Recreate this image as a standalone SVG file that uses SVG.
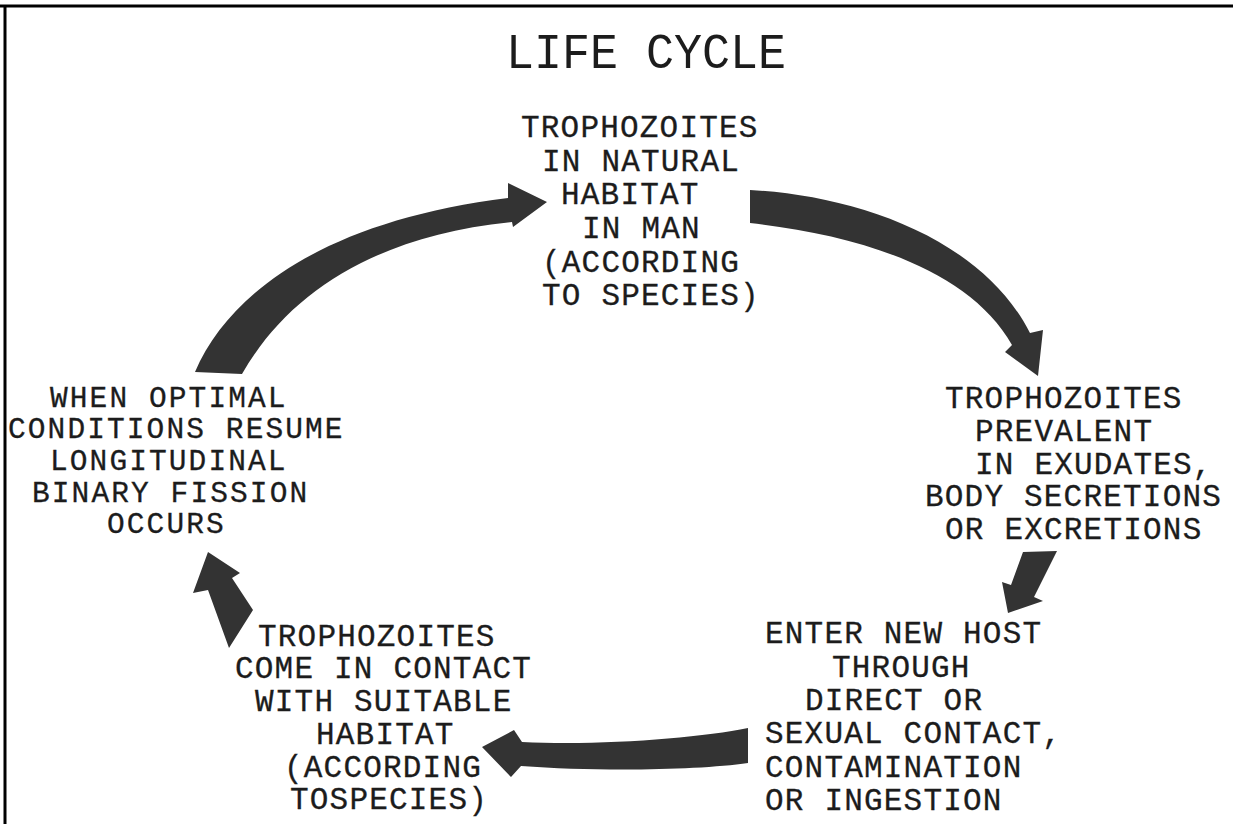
<svg xmlns="http://www.w3.org/2000/svg" width="1233" height="824" viewBox="0 0 1233 824">
<style>
.t{font-family:"Liberation Mono","DejaVu Sans Mono",monospace;font-size:31px;letter-spacing:1.2px;fill:#1c1c1c;stroke:#1c1c1c;stroke-width:0.3}
.s{font-size:29.5px;letter-spacing:2.1px}
.title{font-family:"Liberation Mono","DejaVu Sans Mono",monospace;font-size:50px;fill:#1c1c1c}
.arr{fill:#333333}
</style>
<rect width="1233" height="824" fill="#ffffff"/>
<g id="frame" stroke="#000" stroke-width="3">
<line x1="0" y1="6" x2="1233" y2="6"/>
<line x1="5" y1="5" x2="5" y2="824"/>
</g>
<text class="title" x="506" y="68" textLength="280" lengthAdjust="spacingAndGlyphs">LIFE CYCLE</text>
<g id="node-top" class="t">
<text x="521" y="137">TROPHOZOITES</text>
<text x="542" y="171">IN NATURAL</text>
<text x="561" y="204">HABITAT</text>
<text x="582" y="238">IN MAN</text>
<text x="542" y="272">(ACCORDING</text>
<text x="542" y="305">TO SPECIES)</text>
</g>
<g id="node-right" class="t">
<text x="945" y="408">TROPHOZOITES</text>
<text x="975" y="441">PREVALENT</text>
<text x="975" y="474">IN EXUDATES,</text>
<text x="925" y="506">BODY SECRETIONS</text>
<text x="945" y="539">OR EXCRETIONS</text>
</g>
<g id="node-bottom-right" class="t">
<text x="765" y="643">ENTER NEW HOST</text>
<text x="832" y="677">THROUGH</text>
<text x="805" y="710">DIRECT OR</text>
<text x="765" y="743">SEXUAL CONTACT,</text>
<text x="765" y="777">CONTAMINATION</text>
<text x="765" y="810">OR INGESTION</text>
</g>
<g id="node-bottom-left" class="t">
<text x="258" y="646">TROPHOZOITES</text>
<text x="235" y="678">COME IN CONTACT</text>
<text x="255" y="711">WITH SUITABLE</text>
<text x="316" y="744">HABITAT</text>
<text x="284" y="777">(ACCORDING</text>
<text x="290" y="809">TOSPECIES)</text>
</g>
<g id="node-left" class="t s">
<text x="50" y="407">WHEN OPTIMAL</text>
<text x="8" y="438">CONDITIONS RESUME</text>
<text x="50" y="470">LONGITUDINAL</text>
<text x="32" y="502">BINARY FISSION</text>
<text x="107" y="533">OCCURS</text>
</g>
<g id="connectors" class="arr">
<path d="M195,372 C230,290 330,220 508,198 L508,183 L547,202 L513,227 L512,222 C380,235 290,290 242,374 Z"/>
<path d="M750,190 C850,195 980,235 1030,333 L1043,330 L1038,376 L1005,352 L1012,345 C970,270 860,235 750,223 Z"/>
<path d="M1023,552 L1057,551 L1034,597 L1043,601 L1008,613 L1002,582 L1011,585 Z"/>
<path d="M748,728 C700,738 600,746 522,742 L514,730 L482,747 L511,777 L521,766 C600,772 700,770 748,763 Z"/>
<path d="M208,552 L240,573 L232,578 L253,610 L229,648 L208,590 L193,593 Z"/>
</g>
</svg>
